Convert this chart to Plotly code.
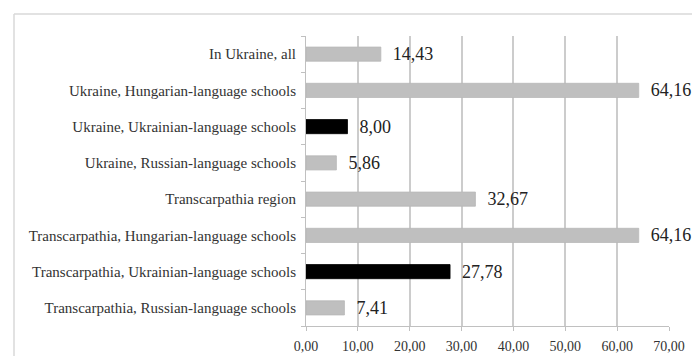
import plotly.graph_objects as go

categories = [
    "In Ukraine, all",
    "Ukraine, Hungarian-language schools",
    "Ukraine, Ukrainian-language schools",
    "Ukraine, Russian-language schools",
    "Transcarpathia region",
    "Transcarpathia, Hungarian-language schools",
    "Transcarpathia, Ukrainian-language schools",
    "Transcarpathia, Russian-language schools",
]
values = [14.43, 64.16, 8.00, 5.86, 32.67, 64.16, 27.78, 7.41]
highlight = [False, False, True, False, False, False, True, False]
tick_vals = [0, 10, 20, 30, 40, 50, 60, 70]
tick_text = ["0,00", "10,00", "20,00", "30,00", "40,00", "50,00", "60,00", "70,00"]

SERIF = "Liberation Serif"

colors = ["#000000" if h else "#bfbfbf" for h in highlight]
line_colors = ["#000000" if h else "#b8b8b8" for h in highlight]
labels = ["\u2002" + f"{v:.2f}".replace(".", ",") for v in values]

fig = go.Figure(go.Bar(
    x=values, y=categories, orientation="h",
    marker=dict(color=colors, line=dict(color=line_colors, width=0.8)),
    text=labels, textposition="outside", cliponaxis=False, constraintext="none",
    textfont=dict(family=SERIF, size=18, color="#222222"),
    width=0.39,
))

L, R, T, B = 306, 23, 36, 30
W, H = 692, 356
pw, ph = W - L - R, H - T - B

fig.update_layout(
    width=W, height=H,
    margin=dict(l=L, r=R, t=T, b=B, autoexpand=False),
    paper_bgcolor="white", plot_bgcolor="white",
    showlegend=False,
    font=dict(family=SERIF, color="#333333"),
    xaxis=dict(
        range=[0, 70], tickvals=tick_vals, ticktext=tick_text,
        showgrid=True, gridcolor="#cccccc", gridwidth=1.5,
        zeroline=False, showline=True, linecolor="#c0c0c0", linewidth=1,
        ticks="outside", ticklen=4, tickcolor="#c0c0c0",
        ticklabelstandoff=3, automargin=False,
        tickfont=dict(size=14, family=SERIF, color="#333333"),
        fixedrange=True,
    ),
    yaxis=dict(
        categoryorder="array", categoryarray=categories[::-1],
        showline=True, linecolor="#c0c0c0", linewidth=1,
        ticks="outside", ticklen=4, tickcolor="#c0c0c0", tickson="boundaries",
        ticklabelstandoff=6, automargin=False,
        tickfont=dict(size=15, family=SERIF, color="#333333"),
        showgrid=False, fixedrange=True,
    ),
    shapes=[
        dict(type="line", xref="paper", yref="paper",
             x0=(14 - L) / pw, x1=(W + 5 - L) / pw,
             y0=1 + (T - 14) / ph, y1=1 + (T - 14) / ph,
             line=dict(color="#d9d9d9", width=1.5)),
        dict(type="line", xref="paper", yref="paper",
             x0=(14 - L) / pw, x1=(14 - L) / pw,
             y0=1 + (T - 14) / ph, y1=-(B + 5) / ph,
             line=dict(color="#d9d9d9", width=1.5)),
    ],
)

fig.write_html("out.html")
